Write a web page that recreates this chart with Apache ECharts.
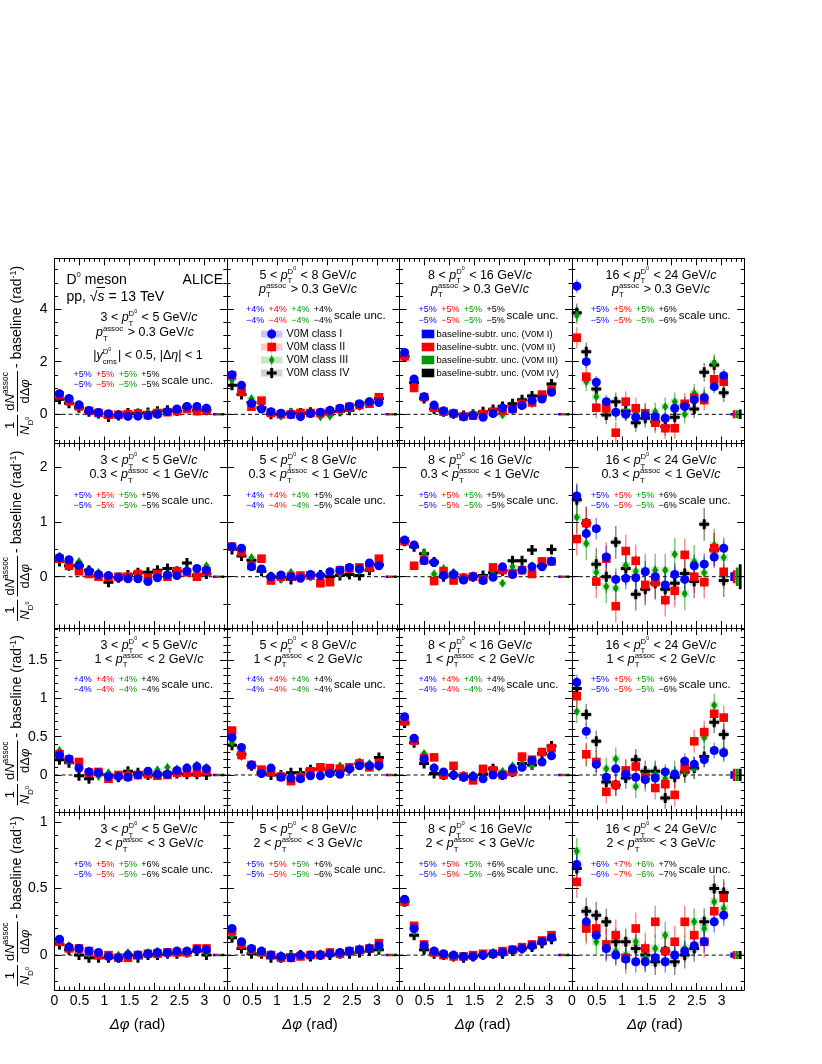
<!DOCTYPE html>
<html><head><meta charset="utf-8">
<script src="https://cdn.jsdelivr.net/npm/echarts@6/dist/echarts.min.js"></script>
<style>html,body{margin:0;padding:0;background:#fff}#c{width:822px;height:1064px}</style>
</head><body><div id="c"></div>
<script>
// ---------------- DATA ----------------
const dphi = [0.10,0.29,0.49,0.69,0.88,1.08,1.28,1.47,1.67,1.87,2.06,2.26,2.45,2.65,2.85,3.04];
const classNames = ['V0M class I','V0M class II','V0M class III','V0M class IV'];
const ptD = [[3,5],[5,8],[8,16],[16,24]];
const ptAssoc = ['> 0.3', '0.3-1', '1-2', '2-3'];
const xTickLabels = [0,0.5,1,1.5,2,2.5,3];
const yTickLabels = [[0,2,4],[0,1,2],[0,0.5,1,1.5],[0,0.5,1]];
const scaleUnc = [
 [[5,5,5,5],[4,4,4,4],[5,5,5,5],[5,5,5,6]],
 [[5,5,5,5],[4,4,4,5],[5,5,5,5],[5,5,5,6]],
 [[4,4,4,4],[4,4,4,4],[4,4,4,4],[5,5,5,6]],
 [[5,5,5,6],[5,5,5,6],[5,5,5,6],[6,7,6,7]]
];
// row 1 : pT assoc > 0.3
const r1c1_I   = [0.78,0.60,0.36,0.14,0.07,0.02,-0.03,-0.08,-0.07,-0.05,0.00,0.10,0.20,0.30,0.30,0.23];
const r1c1_II  = [0.72,0.50,0.30,0.13,0.05,-0.02,-0.02,0.00,0.03,-0.03,0.05,0.08,0.12,0.20,0.12,0.15];
const r1c1_III = [0.80,0.55,0.35,0.13,0.06,-0.05,-0.03,0.03,0.02,0.06,0.10,0.12,0.15,0.30,0.20,0.25];
const r1c1_IV  = [0.57,0.42,0.25,0.10,0.03,-0.10,-0.05,0.05,0.03,0.07,0.12,0.15,0.13,0.28,0.15,0.15];
const r1c2_I   = [1.50,1.10,0.42,0.20,0.10,0.04,-0.02,-0.09,0.03,0.08,0.15,0.23,0.30,0.40,0.48,0.45];
const r1c2_II  = [1.48,0.85,0.29,0.52,0.05,0.00,0.00,0.05,0.05,0.05,0.10,0.20,0.28,0.35,0.40,0.65];
const r1c2_III = [1.30,0.90,0.60,0.25,0.10,-0.07,0.10,0.05,0.05,-0.10,-0.07,0.12,0.20,0.30,0.42,0.55];
const r1c2_IV  = [1.10,0.75,0.45,0.25,0.00,0.00,0.05,0.05,0.08,0.02,0.10,0.12,0.15,0.35,0.45,0.60];
const r1c3_I   = [2.35,1.34,0.67,0.35,0.13,0.03,-0.10,-0.05,-0.11,0.03,0.24,0.20,0.33,0.52,0.58,0.84];
const r1c3_II  = [2.20,1.00,0.65,0.25,0.10,0.03,-0.08,-0.05,0.00,0.10,0.15,0.20,0.40,0.45,0.75,0.95];
const r1c3_III = [2.25,1.20,0.70,0.22,0.12,0.00,-0.05,0.00,0.02,0.08,-0.03,0.18,0.35,0.40,0.60,0.90];
const r1c3_IV  = [2.20,1.20,0.60,0.20,0.10,0.02,-0.05,0.00,0.10,0.18,0.30,0.40,0.55,0.70,0.70,1.15];
const r1c4_I   = [4.87,2.00,1.22,0.48,0.08,0.00,-0.11,-0.03,-0.09,-0.15,0.23,0.29,0.55,0.63,1.05,1.47];
const r1c4_II  = [2.91,1.43,0.25,0.23,-0.70,0.48,0.23,0.04,-0.32,-0.53,-0.53,0.40,0.63,0.54,1.33,1.24];
const r1c4_III = [3.77,1.24,0.67,0.16,0.10,0.10,0.04,0.04,0.10,0.29,0.48,0.00,0.80,0.70,1.94,1.30];
const r1c4_IV  = [3.86,2.38,0.96,-0.03,0.48,0.13,-0.32,-0.15,-0.28,-0.47,-0.11,0.33,0.20,1.60,1.87,0.82];
// row 2 : 0.3 < pT assoc < 1
const r2c1_I   = [0.35,0.31,0.21,0.10,0.04,0.02,-0.02,-0.04,-0.04,-0.09,-0.02,0.03,0.02,0.10,0.15,0.12];
const r2c1_II  = [0.33,0.20,0.10,0.05,0.00,-0.01,0.00,0.00,0.05,-0.02,0.05,0.00,0.10,0.08,0.00,0.10];
const r2c1_III = [0.38,0.22,0.28,0.10,0.08,0.00,-0.02,0.00,0.00,-0.05,0.05,0.02,0.05,0.12,0.02,0.20];
const r2c1_IV  = [0.28,0.20,0.20,0.12,0.02,-0.10,-0.02,0.03,0.07,0.08,0.12,0.15,0.10,0.25,0.02,0.05];
const r2c2_I   = [0.55,0.52,0.18,0.14,0.00,0.03,0.00,-0.03,0.04,0.02,0.09,0.12,0.17,0.14,0.25,0.20];
const r2c2_II  = [0.55,0.45,0.20,0.33,-0.07,0.00,0.00,0.02,0.02,-0.12,-0.10,0.12,0.15,0.17,0.18,0.33];
const r2c2_III = [0.55,0.45,0.35,0.12,0.00,-0.05,0.08,0.02,0.00,-0.12,-0.10,0.05,0.15,0.10,0.15,0.25];
const r2c2_IV  = [0.50,0.38,0.30,0.10,0.00,-0.02,-0.05,0.00,0.02,0.03,0.00,0.02,0.04,0.02,0.12,0.22];
const r2c3_I   = [0.67,0.58,0.29,0.26,0.02,0.04,-0.06,0.00,-0.07,-0.01,0.18,0.04,0.12,0.18,0.18,0.28];
const r2c3_II  = [0.65,0.20,0.30,-0.08,0.10,-0.07,-0.02,0.00,-0.05,0.17,0.12,0.06,0.12,0.05,0.28,0.28];
const r2c3_III = [0.65,0.58,0.43,0.05,0.15,0.08,-0.05,0.00,-0.05,0.05,-0.12,0.18,0.15,0.20,0.28,0.30];
const r2c3_IV  = [0.65,0.55,0.42,0.27,0.00,0.05,-0.03,0.00,0.02,0.07,0.11,0.29,0.29,0.49,0.20,0.50];
const r2c4_I   = [1.48,0.79,0.88,0.36,-0.05,-0.03,-0.02,0.09,0.00,-0.15,0.04,-0.05,0.20,0.23,0.36,0.52];
const r2c4_II  = [0.69,0.98,-0.09,0.33,-0.54,0.47,0.29,-0.15,-0.10,-0.43,-0.26,0.40,0.00,-0.10,0.52,0.09];
const r2c4_III = [1.09,0.61,0.08,-0.18,-0.21,0.21,0.10,0.12,0.12,0.12,0.41,-0.31,0.28,0.07,0.58,0.35];
const r2c4_IV  = [1.41,0.98,0.23,0.00,0.63,0.15,-0.32,-0.23,-0.12,-0.23,-0.12,0.06,-0.09,0.96,0.49,-0.07];
// row 3 : 1 < pT assoc < 2
const r3c1_I   = [0.26,0.21,0.09,0.04,0.03,-0.02,-0.02,-0.03,0.00,0.05,0.01,0.01,0.06,0.09,0.11,0.08];
const r3c1_II  = [0.27,0.20,0.17,0.03,0.04,-0.05,0.00,-0.02,0.00,0.01,-0.01,0.00,0.03,0.03,0.03,0.05];
const r3c1_III = [0.32,0.22,0.08,0.05,-0.02,0.03,0.00,0.02,0.00,0.03,0.07,0.10,0.08,0.10,0.13,0.10];
const r3c1_IV  = [0.20,0.16,-0.01,-0.05,0.01,0.00,-0.03,0.05,0.03,0.00,0.00,0.02,0.02,0.01,0.01,0.00];
const r3c2_I   = [0.49,0.36,0.13,0.02,0.09,-0.03,-0.04,-0.05,-0.01,-0.01,0.02,0.01,0.08,0.12,0.12,0.12];
const r3c2_II  = [0.58,0.26,0.13,0.07,0.04,-0.02,-0.08,-0.03,0.05,0.10,0.09,0.08,0.10,0.15,0.10,0.16];
const r3c2_III = [0.42,0.24,0.13,0.06,0.05,0.00,-0.02,0.00,0.05,0.00,0.02,0.12,0.10,0.12,0.15,0.10];
const r3c2_IV  = [0.39,0.27,0.12,0.03,0.00,0.00,0.03,0.03,0.07,0.08,0.04,0.06,0.08,0.15,0.12,0.23];
const r3c3_I   = [0.76,0.48,0.21,0.09,0.04,0.00,-0.03,-0.02,-0.05,0.00,0.00,0.08,0.10,0.19,0.17,0.25];
const r3c3_II  = [0.70,0.45,0.22,0.23,0.00,0.12,-0.02,-0.07,0.08,0.06,0.00,0.04,0.24,0.20,0.30,0.35];
const r3c3_III = [0.72,0.43,0.28,0.10,0.02,0.00,-0.01,0.00,0.05,0.05,0.05,0.12,0.15,0.12,0.30,0.33];
const r3c3_IV  = [0.68,0.42,0.15,0.02,0.00,0.00,-0.02,-0.02,0.01,0.08,0.00,0.04,0.15,0.13,0.28,0.38];
const r3c4_I   = [1.21,0.57,0.14,-0.03,0.08,0.01,-0.03,-0.06,-0.04,0.04,0.01,0.18,0.14,0.20,0.32,0.29];
const r3c4_II  = [1.03,0.27,0.17,-0.22,-0.13,0.06,0.11,-0.03,-0.17,-0.12,-0.26,0.09,0.44,0.56,0.80,0.75];
const r3c4_III = [0.83,0.26,0.17,0.08,0.21,0.05,-0.15,-0.07,0.01,-0.05,0.04,0.05,0.09,0.49,0.91,0.32];
const r3c4_IV  = [1.13,0.79,0.44,-0.09,-0.13,-0.04,0.20,0.05,0.05,-0.30,-0.03,0.04,0.09,0.24,0.69,0.53];
// row 4 : 2 < pT assoc < 3
const r4c1_I   = [0.12,0.06,0.05,0.03,0.02,-0.01,-0.02,0.00,0.00,0.01,0.02,0.02,0.03,0.03,0.04,0.04];
const r4c1_II  = [0.10,0.05,0.05,0.03,0.00,0.00,-0.02,-0.02,0.00,0.01,0.01,0.02,0.02,0.02,0.05,0.05];
const r4c1_III = [0.10,0.07,0.03,0.01,0.01,0.00,0.00,0.02,0.00,0.02,0.03,0.01,0.02,0.03,0.04,0.02];
const r4c1_IV  = [0.08,0.04,0.00,-0.02,-0.02,-0.02,-0.02,0.00,-0.02,0.00,0.00,0.01,0.01,0.02,0.03,0.00];
const r4c2_I   = [0.20,0.10,0.05,0.03,0.00,-0.01,-0.02,0.00,0.00,0.00,0.01,0.02,0.03,0.04,0.05,0.07];
const r4c2_II  = [0.18,0.08,0.04,0.02,0.00,-0.02,-0.02,-0.01,0.00,0.00,0.02,0.01,0.03,0.04,0.05,0.09];
const r4c2_III = [0.15,0.07,0.03,0.02,0.00,0.00,0.00,-0.01,0.00,0.01,0.01,0.02,0.03,0.05,0.06,0.05];
const r4c2_IV  = [0.13,0.05,0.01,0.01,-0.02,-0.02,0.00,0.00,-0.01,0.00,0.00,0.01,0.01,0.02,0.03,0.04];
const r4c3_I   = [0.42,0.20,0.07,0.03,0.01,0.00,-0.01,-0.01,0.00,0.01,0.02,0.04,0.05,0.07,0.10,0.13];
const r4c3_II  = [0.40,0.22,0.08,0.02,0.00,-0.01,-0.01,0.00,0.01,0.01,0.03,0.04,0.06,0.08,0.11,0.15];
const r4c3_III = [0.41,0.18,0.06,0.03,0.00,0.00,-0.01,0.00,0.00,0.02,0.03,0.03,0.05,0.08,0.10,0.13];
const r4c3_IV  = [0.40,0.15,0.04,0.01,0.00,-0.01,-0.02,-0.01,0.00,0.01,0.01,0.03,0.05,0.06,0.09,0.12];
const r4c4_I   = [0.68,0.25,0.15,0.05,0.00,-0.03,-0.05,-0.05,-0.02,-0.05,0.00,0.03,0.07,0.10,0.25,0.30];
const r4c4_II  = [0.55,0.20,0.20,0.08,0.15,-0.02,0.20,0.05,0.25,0.03,0.10,0.25,0.15,0.10,0.33,0.43];
const r4c4_III = [0.78,0.20,0.10,0.05,0.03,0.00,0.10,-0.02,0.05,0.15,0.00,0.05,0.25,0.20,0.40,0.35];
const r4c4_IV  = [0.65,0.33,0.30,0.25,0.10,0.10,0.05,0.00,-0.05,0.03,-0.05,0.00,0.05,0.25,0.50,0.47];
// statistical uncertainty per panel per class
const statErr = [
 [[0.05,0.05,0.05,0.05],[0.06,0.06,0.06,0.06],[0.08,0.08,0.08,0.08],[0.25,0.40,0.35,0.35]],
 [[0.04,0.04,0.04,0.04],[0.04,0.04,0.04,0.04],[0.07,0.07,0.07,0.07],[0.20,0.30,0.30,0.30]],
 [[0.02,0.02,0.02,0.02],[0.03,0.03,0.03,0.03],[0.04,0.04,0.04,0.04],[0.10,0.15,0.15,0.14]],
 [[0.01,0.01,0.01,0.01],[0.015,0.015,0.015,0.015],[0.02,0.02,0.02,0.02],[0.08,0.12,0.10,0.10]]
];
// systematic box half-height per panel
const sysErr = [[0.06,0.07,0.10,0.12],[0.03,0.03,0.04,0.06],[0.02,0.02,0.03,0.04],[0.01,0.012,0.02,0.03]];
// baseline-subtraction uncertainty per panel per class
const baseUnc = [
 [[0.03,0.03,0.03,0.03],[0.03,0.03,0.03,0.03],[0.04,0.04,0.04,0.04],[0.05,0.15,0.15,0.18]],
 [[0.01,0.01,0.01,0.01],[0.01,0.01,0.01,0.01],[0.02,0.02,0.02,0.02],[0.08,0.12,0.17,0.23]],
 [[0.006,0.006,0.006,0.006],[0.01,0.01,0.01,0.01],[0.01,0.01,0.01,0.01],[0.05,0.08,0.08,0.08]],
 [[0.004,0.004,0.004,0.004],[0.005,0.005,0.005,0.005],[0.008,0.008,0.008,0.008],[0.02,0.03,0.03,0.03]]
];
const baseX = [3.20,3.25,3.31,3.37];
const allVals = [
 [[r1c1_I,r1c1_II,r1c1_III,r1c1_IV],[r1c2_I,r1c2_II,r1c2_III,r1c2_IV],[r1c3_I,r1c3_II,r1c3_III,r1c3_IV],[r1c4_I,r1c4_II,r1c4_III,r1c4_IV]],
 [[r2c1_I,r2c1_II,r2c1_III,r2c1_IV],[r2c2_I,r2c2_II,r2c2_III,r2c2_IV],[r2c3_I,r2c3_II,r2c3_III,r2c3_IV],[r2c4_I,r2c4_II,r2c4_III,r2c4_IV]],
 [[r3c1_I,r3c1_II,r3c1_III,r3c1_IV],[r3c2_I,r3c2_II,r3c2_III,r3c2_IV],[r3c3_I,r3c3_II,r3c3_III,r3c3_IV],[r3c4_I,r3c4_II,r3c4_III,r3c4_IV]],
 [[r4c1_I,r4c1_II,r4c1_III,r4c1_IV],[r4c2_I,r4c2_II,r4c2_III,r4c2_IV],[r4c3_I,r4c3_II,r4c3_III,r4c3_IV],[r4c4_I,r4c4_II,r4c4_III,r4c4_IV]]
];

// ---------------- LAYOUT / STYLE ----------------
const FONT = '"Liberation Sans", Arial, Helvetica, sans-serif';
const COL = ['#0000ff','#ff0000','#009600','#000000'];
const FILL = ['rgba(0,0,255,0.22)','rgba(255,0,0,0.22)','rgba(0,150,0,0.22)','rgba(0,0,0,0.18)'];
const ERRC = ['rgba(0,0,255,0.45)','rgba(255,0,0,0.45)','rgba(0,150,0,0.5)','rgba(0,0,0,0.45)'];
const rowTop = [258.3, 443.5, 628, 812.5];
const rowH = [185.2, 184.5, 184.5, 177.5];
const colLeft = [54.5, 227, 399.6, 571.8];
const colW = 172.4;
const XMAX = 3.45;
const yMin = [-1.11, -0.94, -0.49, -0.262];
const yMax = [5.93, 2.44, 1.92, 1.071];
const yMinorStep = [0.5, 0.5, 0.1, 0.1];
const textCx = [149, 308, 480, 661];

const mctx = document.createElement('canvas').getContext('2d');
function fnt(sz, it){ return (it?'italic ':'') + sz + 'px ' + FONT; }
function mw(s, sz, it){ mctx.font = fnt(sz, it); return mctx.measureText(s).width; }
function layout(tokens, size){
  const P = []; let x = 0;
  for (const tk of tokens){
    const k = tk[0];
    if (k==='t' || k==='i'){ P.push({s:tk[1],dx:x,dy:0,sz:size,it:k==='i'}); x += mw(tk[1],size,k==='i'); }
    else if (k==='sup'){ const sz=size*0.65; P.push({s:tk[1],dx:x,dy:-0.42*size,sz}); x += mw(tk[1],sz); }
    else if (k==='ss'){ const sz=size*0.62; P.push({s:tk[1],dx:x,dy:0.3*size,sz}); P.push({s:tk[2],dx:x,dy:-0.45*size,sz});
      x += Math.max(mw(tk[1],sz),mw(tk[2],sz)) + 1; }
    else if (k==='ssD'){ const sz=size*0.62, s2=size*0.42, wD=mw('D',sz);
      P.push({s:tk[1],dx:x,dy:0.3*size,sz}); P.push({s:'D',dx:x,dy:-0.45*size,sz}); P.push({s:'0',dx:x+wD,dy:-0.75*size,sz:s2});
      x += Math.max(mw(tk[1],sz), wD+mw('0',s2)) + 1; }
    else if (k==='subD'){ const sz=size*0.62, s2=size*0.42, wD=mw('D',sz);
      P.push({s:'D',dx:x,dy:0.3*size,sz}); P.push({s:'0',dx:x+wD,dy:0.02*size,sz:s2}); x += wD+mw('0',s2)+1; }
    else if (k==='supD'){ const s2=size*0.55; P.push({s:'0',dx:x,dy:-0.5*size,sz:s2}); x += mw('0',s2); }
    else if (k==='gap'){ x += tk[1]; }
  }
  return {P, w:x};
}
// y = baseline
function emit(arr, tokens, size, x, y, align, color){
  const L = layout(tokens, size);
  const x0 = align==='center' ? x - L.w/2 : (align==='right' ? x - L.w : x);
  for (const p of L.P){
    arr.push({type:'text', silent:true, x:x0+p.dx, y:y+p.dy-0.35*p.sz,
      style:{text:p.s, fill:color, font:fnt(p.sz,p.it), align:'left', verticalAlign:'middle'}});
  }
  return {x0, w:L.w};
}
// y = visual center of main-size text
function emitC(arr, tokens, size, x, yc, align, color){ return emit(arr, tokens, size, x, yc + 0.35*size, align, color); }

const els = [];
// ---- panel texts ----
for (let r=0;r<4;r++){
  for (let c=0;c<4;c++){
    const L = colLeft[c], T = rowTop[r];
    const first = (r===0 && c===0);
    const y1 = first ? 318 : T + 17.5;
    const y2 = first ? 333 : T + 31.5;
    const S = 12.5;
    emitC(els, [['t',ptD[c][0]+' < '],['i','p'],['ssD','T'],['t',' < '+ptD[c][1]+' GeV/'],['i','c']], S, textCx[c], y1, 'center', '#000');
    let l2;
    if (r===0) l2 = [['i','p'],['ss','T','assoc'],['t',' > 0.3 GeV/'],['i','c']];
    else { const ab = ptAssoc[r].split('-'); l2 = [['t',ab[0]+' < '],['i','p'],['ss','T','assoc'],['t',' < '+ab[1]+' GeV/'],['i','c']]; }
    emitC(els, l2, S, textCx[c]-(first?4:0), y2, 'center', '#000');
    const ys1 = first ? 375 : T + 51.6;
    const ys2 = first ? 385 : T + 61.8;
    const yu = first ? 380.8 : T + 57.2;
    const sx = L + 19;
    for (let k=0;k<4;k++){
      const v = scaleUnc[r][c][k];
      emitC(els, [['t','+'+v+'%']], 9, sx + 22.6*k, ys1, 'left', COL[k]);
      emitC(els, [['t','\u2212'+v+'%']], 9, sx + 22.6*k, ys2, 'left', COL[k]);
    }
    emitC(els, [['t','scale unc.']], 11.5, sx + 88, yu, 'left', '#000');
  }
}
// first panel extra
emitC(els, [['t','D'],['supD'],['t',' meson']], 14, 66.5, 280, 'left', '#000');
emitC(els, [['t','ALICE']], 14, 223, 280, 'right', '#000');
{
  const a = emitC(els, [['t','pp, \u221A'],['i','s'],['t',' = 13 TeV']], 14, 66.5, 297, 'left', '#000');
  const wpp = mw('pp, \u221A',14), ws = mw('s',14,true);
  els.push({type:'line', silent:true, shape:{x1:a.x0+wpp-1, y1:287.5, x2:a.x0+wpp+ws+0.5, y2:287.5}, style:{stroke:'#000', lineWidth:1}});
}
emitC(els, [['t','|'],['i','y'],['ssD','cms'],['t','| < 0.5, |\u0394'],['i','\u03B7'],['t','| < 1']], 12.5, 148, 356, 'center', '#000');

// legend (class markers)
const legY = [334, 347, 360, 373];
function markerEl(c, cx, cy){
  if (c===0) return {type:'circle', silent:true, shape:{cx,cy,r:4.5}, style:{fill:COL[0]}};
  if (c===1) return {type:'rect', silent:true, shape:{x:cx-4.3,y:cy-4.3,width:8.6,height:8.6}, style:{fill:COL[1]}};
  if (c===2) return {type:'polygon', silent:true, shape:{points:[[cx,cy-4.5],[cx+2.8,cy],[cx,cy+4.5],[cx-2.8,cy]]}, style:{fill:COL[2]}};
  const a=1.5, b=5;
  return {type:'polygon', silent:true, shape:{points:[[cx-a,cy-b],[cx+a,cy-b],[cx+a,cy-a],[cx+b,cy-a],[cx+b,cy+a],[cx+a,cy+a],[cx+a,cy+b],[cx-a,cy+b],[cx-a,cy+a],[cx-b,cy+a],[cx-b,cy-a],[cx-a,cy-a]]}, style:{fill:COL[3]}};
}
for (let c=0;c<4;c++){
  const cx = 271.7, cy = legY[c];
  els.push({type:'rect', silent:true, shape:{x:261,y:cy-3.5,width:21.5,height:7}, style:{fill:FILL[c]}});
  els.push({type:'line', silent:true, shape:{x1:cx,y1:cy-6,x2:cx,y2:cy+6}, style:{stroke:ERRC[c], lineWidth:1}});
  els.push(markerEl(c, cx, cy));
  emitC(els, [['t',classNames[c]]], 10.8, 286.5, cy, 'left', '#000');
  els.push({type:'rect', silent:true, shape:{x:421.7,y:cy-4.3,width:12.6,height:8.6}, style:{fill:COL[c]}});
  emitC(els, [['t','baseline-subtr. unc. (V0M '+['I','II','III','IV'][c]+')']], 9.5, 436.5, cy, 'left', '#000');
}
// y-axis titles
for (let r=0;r<4;r++){
  const ch = [];
  const S = 14, Sf = 13;
  const denA = [['i','N'],['subD']];
  const wA = layout(denA, Sf).w + 2;
  let lx = 0;
  emit(ch, [['t','1']], Sf, lx + wA/2, -3, 'center', '#000');
  emit(ch, denA, Sf, lx + wA/2, 12, 'center', '#000');
  ch.push({type:'line', silent:true, shape:{x1:lx, y1:0, x2:lx+wA, y2:0}, style:{stroke:'#000', lineWidth:1}});
  lx += wA + 3;
  const numB = [['t','d'],['i','N'],['sup','assoc']];
  const denB = [['t','d\u0394'],['i','\u03C6']];
  const wB = Math.max(layout(numB,Sf).w, layout(denB,Sf).w) + 2;
  emit(ch, numB, Sf, lx + wB/2, -3, 'center', '#000');
  emit(ch, denB, Sf, lx + wB/2, 12, 'center', '#000');
  ch.push({type:'line', silent:true, shape:{x1:lx, y1:0, x2:lx+wB, y2:0}, style:{stroke:'#000', lineWidth:1}});
  lx += wB + 3;
  const tC = [['t','- baseline (rad'],['sup','-1'],['t',')']];
  const r2 = emit(ch, tC, S, lx, 0.35*S, 'left', '#000');
  const total = lx + r2.w;
  const cy = rowTop[r] + rowH[r]/2;
  els.push({type:'group', silent:true, x:17.5, y:cy + total/2, rotation:Math.PI/2, children:ch});
}
// x-axis titles
for (let c=0;c<4;c++){
  emitC(els, [['i','\u0394\u03C6'],['t',' (rad)']], 15, colLeft[c] + 83, 1025, 'center', '#000');
}

// ---------------- ECHARTS OPTION ----------------
const grids=[], xAxes=[], yAxes=[], series=[];
function ticksBetween(lo, hi, step, exclude){
  const out=[]; const n0=Math.ceil(lo/step-1e-9), n1=Math.floor(hi/step+1e-9);
  for (let n=n0;n<=n1;n++){ const v=+(n*step).toFixed(4); if (!exclude.some(e=>Math.abs(e-v)<1e-6)) out.push(v); }
  return out;
}
const xMinor = ticksBetween(0.05, XMAX, 0.1, xTickLabels);
function axisBase(k, min, max){ return {type:'value', gridIndex:k, min, max, splitLine:{show:false}, minorTick:{show:false}, z:5}; }
for (let r=0;r<4;r++) for (let c=0;c<4;c++){
  const k = r*4+c;
  grids.push({left:colLeft[c], top:rowTop[r], width:colW, height:rowH[r], outerBoundsMode:'none', containLabel:false});
  const yMaj = ticksBetween(yMin[r], yMax[r], yTickLabels[r][1]-yTickLabels[r][0], []);
  const yMinr = ticksBetween(yMin[r], yMax[r], yMinorStep[r], yMaj);
  const mk = (pos, major, lab, vals, len) => ({
    position:pos, axisLine:{show:major, onZero:false, lineStyle:{color:'#000', width:1}},
    axisTick:{show:true, inside:true, length:len, lineStyle:{color:'#000', width:1}, customValues:vals},
    axisLabel:{show:lab, customValues:vals, color:'#000', fontSize:14, fontFamily:FONT, margin:lab?(pos==='bottom'?4:7):8}
  });
  xAxes.push(Object.assign(axisBase(k,0,XMAX), mk('bottom', true, r===3, xTickLabels, 7)));
  xAxes.push(Object.assign(axisBase(k,0,XMAX), mk('bottom', false, false, xMinor, 3.5)));
  xAxes.push(Object.assign(axisBase(k,0,XMAX), mk('top', true, false, xTickLabels, 7)));
  xAxes.push(Object.assign(axisBase(k,0,XMAX), mk('top', false, false, xMinor, 3.5)));
  yAxes.push(Object.assign(axisBase(k,yMin[r],yMax[r]), mk('left', true, c===0, yMaj, 7)));
  yAxes.push(Object.assign(axisBase(k,yMin[r],yMax[r]), mk('left', false, false, yMinr, 3.5)));
  yAxes.push(Object.assign(axisBase(k,yMin[r],yMax[r]), mk('right', true, false, yMaj, 7)));
  yAxes.push(Object.assign(axisBase(k,yMin[r],yMax[r]), mk('right', false, false, yMinr, 3.5)));
  const xi = 4*k, yi = 4*k;
  series.push({type:'line', xAxisIndex:xi, yAxisIndex:yi, data:[[0,0],[XMAX,0]], symbol:'none', silent:true, animation:false,
    lineStyle:{color:'#000', width:1, type:[4,3]}, z:1});
  series.push({type:'custom', xAxisIndex:xi, yAxisIndex:yi, silent:true, clip:true, z:2,
    data: baseX.map((x,cl)=>[x, 0, baseUnc[r][c][cl], cl]),
    renderItem:(p, api)=>{ const x=api.value(0), h=api.value(2), cl=api.value(3);
      const a=api.coord([x-0.028, h]), b=api.coord([x+0.028, -h]); const hh=Math.max(b[1]-a[1], 2.5);
      return {type:'rect', shape:{x:a[0], y:(a[1]+b[1])/2-hh/2, width:b[0]-a[0], height:hh}, style:{fill:COL[cl]}}; }});
  const order = [3,2,1,0];
  for (const cl of order){
    const vals = allVals[r][c][cl];
    const hs = sysErr[r][c];
    series.push({type:'custom', xAxisIndex:xi, yAxisIndex:yi, silent:true, clip:true, z:3,
      data: dphi.map((x,i)=>[x, vals[i]]),
      renderItem:(p, api)=>{ const x=api.value(0), y=api.value(1);
        const a=api.coord([x-0.085, y+hs]), b=api.coord([x+0.085, y-hs]);
        return {type:'rect', shape:{x:a[0], y:a[1], width:b[0]-a[0], height:Math.max(b[1]-a[1],3)}, style:{fill:FILL[cl]}}; }});
  }
  for (const cl of order){
    const vals = allVals[r][c][cl];
    const e = statErr[r][c][cl];
    series.push({type:'custom', xAxisIndex:xi, yAxisIndex:yi, silent:true, clip:true, z:4,
      data: dphi.map((x,i)=>[x, vals[i]]),
      renderItem:(p, api)=>{ const x=api.value(0), y=api.value(1);
        const a=api.coord([x, y+e]), b=api.coord([x, y-e]);
        return {type:'line', shape:{x1:a[0], y1:a[1], x2:b[0], y2:b[1]}, style:{stroke:ERRC[cl], lineWidth:1.5}}; }});
  }
  const sym = ['circle','rect','diamond','path://M3.5,0H6.5V3.5H10V6.5H6.5V10H3.5V6.5H0V3.5H3.5Z'];
  const ssz = [9, 8.6, [6,9], 10];
  for (const cl of order){
    const vals = allVals[r][c][cl];
    series.push({type:'scatter', name:classNames[cl], xAxisIndex:xi, yAxisIndex:yi, silent:true, clip:true, z:6,
      symbol:sym[cl], symbolSize:ssz[cl], itemStyle:{color:COL[cl], opacity:1},
      data: dphi.map((x,i)=>[x, vals[i]])});
  }
}

const chart = echarts.init(document.getElementById('c'), null, {renderer:'canvas'});
chart.setOption({
  animation:false, backgroundColor:'#ffffff', textStyle:{fontFamily:FONT},
  grid:grids, xAxis:xAxes, yAxis:yAxes, series:series,
  graphic:{elements:els}
});
</script>
</body></html>
